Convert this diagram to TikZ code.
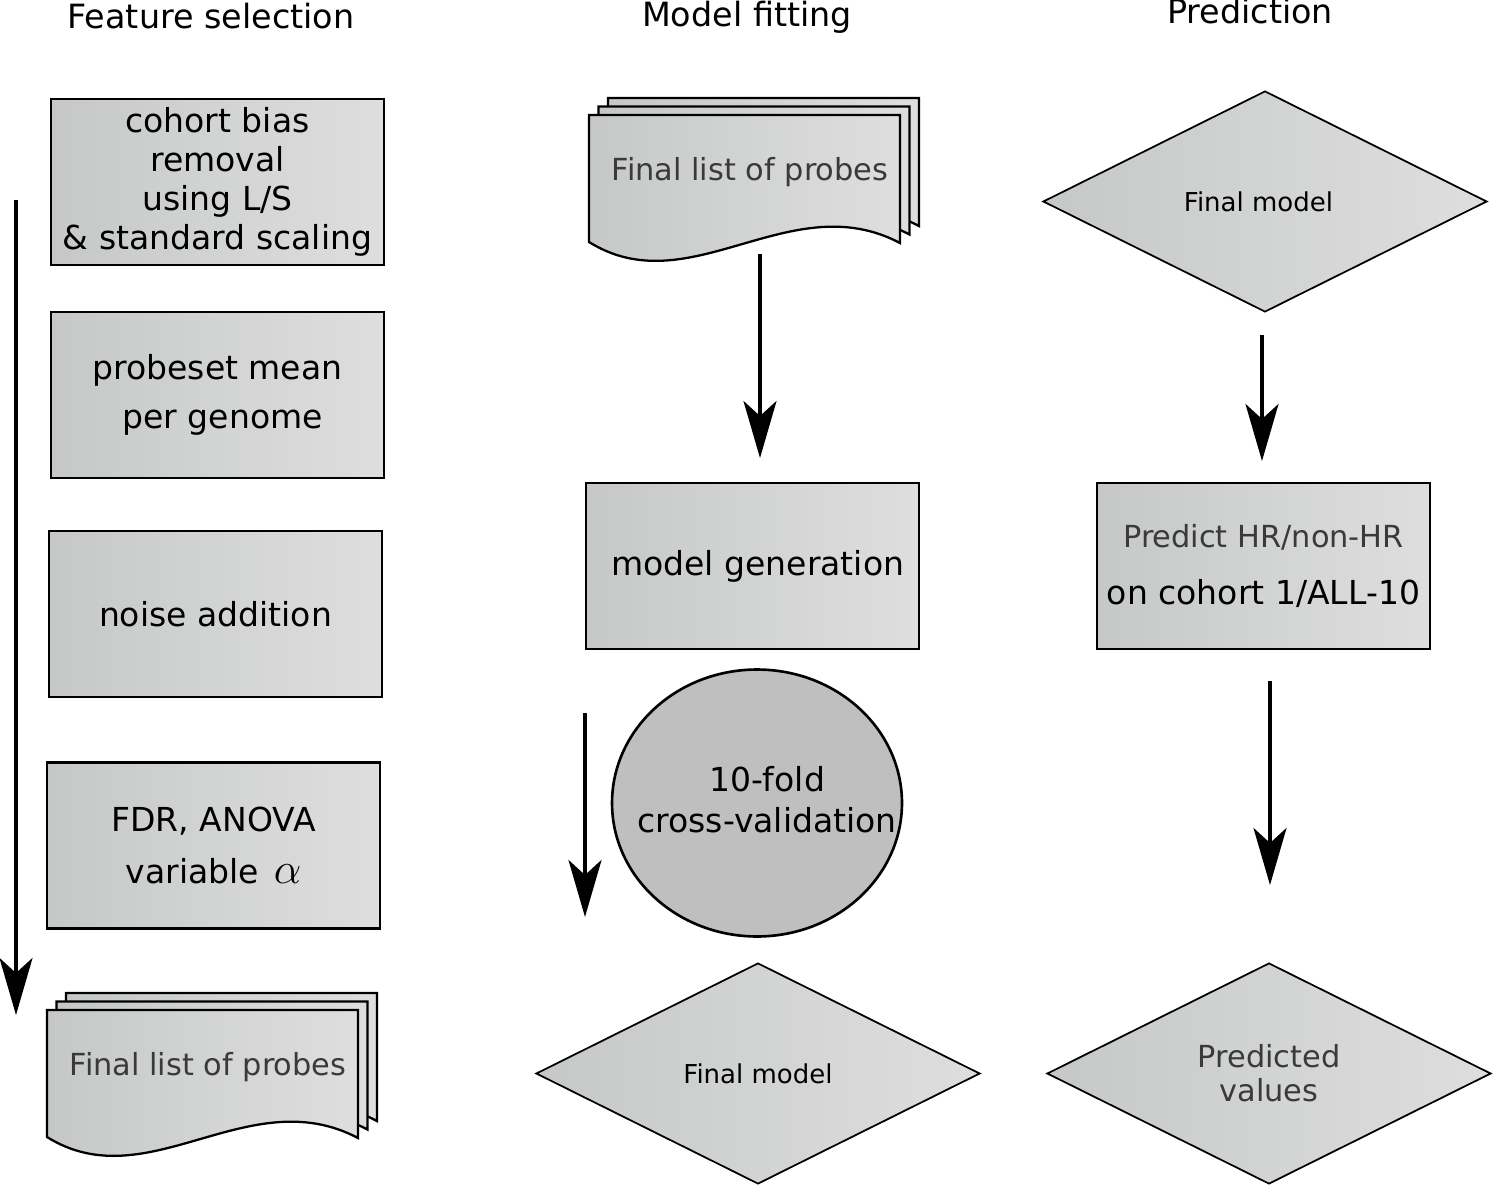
\documentclass[tikz,border=0pt]{standalone}
\usepackage{fontspec}
\setmainfont{DejaVu Sans}
\usepackage{xcolor}
\usepackage{tikz}
\usetikzlibrary{shapes.geometric, arrows.meta, positioning, calc}
\definecolor{shadeL}{RGB}{198,200,200}
\definecolor{shadeR}{RGB}{222,222,222}
\definecolor{softtext}{RGB}{58,58,58}

\begin{document}
\begin{tikzpicture}[
  x=0.02cm, y=-0.02cm,
  font=\fontsize{18.8}{22.2}\selectfont,
  stage/.style={draw, line width=1.3pt, left color=shadeL, right color=shadeR, minimum width=6.66cm, minimum height=3.32cm, inner sep=0pt, align=center},
  verdict/.style={diamond, draw, line width=1pt, left color=shadeL, right color=shadeR, minimum width=8.88cm, minimum height=4.42cm, aspect=2, inner sep=0pt, align=center},
  cvloop/.style={ellipse, draw, line width=1.5pt, fill=black!25, minimum width=5.8cm, minimum height=5.34cm, inner sep=0pt},
  sheet/.style={draw, line width=1.3pt, left color=shadeL, right color=shadeR},
  flow/.style={line width=2.1pt, -{Stealth[length=1.14cm, width=0.66cm, inset=0.3cm]}},
  heading/.style={anchor=base, font=\fontsize{19}{22}\selectfont},
  grey/.style={text=softtext, font=\fontsize{17.3}{20.5}\selectfont},
]
\useasboundingbox (0,0) rectangle (1494,1186);

% column headings
\node[heading] (hSel) at (211,29) {Feature selection};
\node[heading] (hFit) at (747,27) {Model fitting};
\node[heading] (hPred) at (1250,24) {Prediction};

% feature selection
\node[stage] (cohort) at (217.5,182) {cohort bias\\removal\\using L/S\\\& standard scaling};
\node[stage, font=\fontsize{18.8}{27.9}\selectfont] (probeset) at (217.5,395) {probeset mean\\\ per genome};
\node[stage] (noise) at (215.5,614) {noise addition};
\node[stage, font=\fontsize{18.8}{30}\selectfont] (fdr) at (213.5,845.5) {FDR, ANOVA\\variable\hspace{0.45em}{\fontsize{24}{30}\selectfont$\alpha$}};

% stacks of probe lists
\foreach \dx/\dy/\nm in {0/0/probesMid, -542/895/probesLeft}{
  \begin{scope}[shift={(\dx,\dy)}]
    \foreach \o in {2,1,0}
      \draw[sheet, shift={(9.5*\o,-8.5*\o)}] (589,115) -- (900,115) -- (900,243)
        .. controls (790,185) and (690,305) .. (589,242) -- cycle;
    \node[grey] (\nm) at (750,172) {Final list of probes};
  \end{scope}
}

% model fitting
\node[stage] (modelgen) at (752.5,566) {\ model generation};
\node[cvloop] (cv) at (757,803) {};
\node[align=center, font=\fontsize{18.8}{23.3}\selectfont] (cvText) at (767,800) {10-fold\\cross-validation};
\node[verdict] (fitModel) at (758,1073.5) {\fontsize{14.8}{17}\selectfont Final model};

% prediction
\node[verdict] (predModel) at (1265,201.5) {\fontsize{14.8}{17}\selectfont Final model\hspace{0.5em}};
\node[stage, font=\fontsize{18.8}{32.4}\selectfont] (predict) at (1263.5,566) {{\color{softtext}\fontsize{17.3}{32.4}\selectfont Predict HR/non-HR}\\on cohort 1/ALL-10};
\node[verdict, grey, font=\fontsize{17.3}{19.3}\selectfont] (predicted) at (1269,1073.5) {Predicted\\values};

% arrows
\coordinate (selTop) at (16,200);
\coordinate (selEnd) at (16,1015);
\coordinate (fitTop) at (760,254);
\coordinate (fitEnd) at (760,458);
\coordinate (cvTop) at (585,713);
\coordinate (cvEnd) at (585,917);
\coordinate (predTop) at (1262,335);
\coordinate (predEnd) at (1262,461);
\coordinate (outTop) at (1270,681);
\coordinate (outEnd) at (1270,885);
\foreach \a/\b in {selTop/selEnd, fitTop/fitEnd, cvTop/cvEnd, predTop/predEnd, outTop/outEnd}
  \draw[flow] (\a) -- (\b);
\end{tikzpicture}
\end{document}
